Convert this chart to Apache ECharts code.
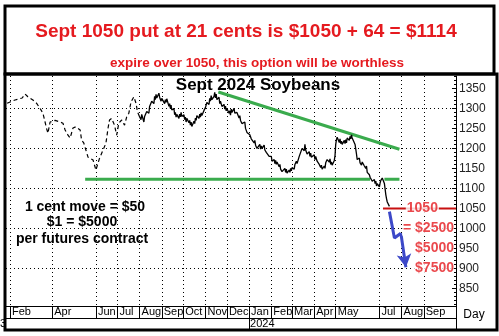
<!DOCTYPE html>
<html>
<head>
<meta charset="utf-8">
<script src="https://cdn.jsdelivr.net/npm/echarts@6/dist/echarts.min.js"></script>
<style>
  html, body { margin: 0; padding: 0; background: #fff; }
  #chart { width: 499px; height: 336px; }
</style>
</head>
<body>
<div id="chart"></div>
<script>
// Sept 2024 soybean futures, daily prices (cents per bushel)
// thinly traded stretch, early 2023
const earlyPrices = [
  ['2023-01-28',1313],['2023-02-01',1316],['2023-02-08',1321],['2023-02-18',1326],['2023-02-22',1336],
  ['2023-02-26',1329],['2023-03-05',1321],['2023-03-10',1313],['2023-03-15',1300],['2023-03-19',1288],
  ['2023-03-22',1266],['2023-03-24',1250],['2023-03-26',1238],['2023-03-29',1266],['2023-04-05',1270],
  ['2023-04-12',1266],['2023-04-16',1263],['2023-04-19',1246],['2023-04-23',1233],['2023-04-26',1226],
  ['2023-04-30',1251],['2023-05-04',1254],['2023-05-10',1246],['2023-05-12',1221],['2023-05-15',1214],
  ['2023-05-18',1196],['2023-05-21',1178],['2023-05-24',1175],['2023-05-28',1171],['2023-06-01',1146],
  ['2023-06-02',1141],['2023-06-06',1175],['2023-06-11',1196],['2023-06-15',1213],['2023-06-18',1251],
  ['2023-06-20',1271],['2023-06-23',1275],['2023-06-27',1258],['2023-06-30',1233],['2023-07-03',1263],
  ['2023-07-07',1271],['2023-07-11',1258],['2023-07-14',1279],['2023-07-17',1288],['2023-07-20',1316],
  ['2023-07-24',1329],['2023-07-27',1313],['2023-07-29',1292],['2023-08-01',1279]
];
// active trading, Aug 2023 onward
const mainPrices = [
  ['2023-08-01',1279],['2023-08-03',1272],['2023-08-04',1285],['2023-08-07',1266],['2023-08-08',1280],
  ['2023-08-10',1276],['2023-08-11',1292],['2023-08-14',1288],['2023-08-15',1305],['2023-08-17',1300],
  ['2023-08-18',1318],['2023-08-21',1312],['2023-08-22',1330],['2023-08-23',1322],['2023-08-24',1335],
  ['2023-08-25',1326],['2023-08-28',1338],['2023-08-29',1328],['2023-08-30',1333],['2023-08-31',1318],
  ['2023-09-01',1325],['2023-09-05',1312],['2023-09-06',1322],['2023-09-07',1315],['2023-09-08',1324],
  ['2023-09-11',1305],['2023-09-12',1312],['2023-09-13',1300],['2023-09-14',1308],['2023-09-15',1296],
  ['2023-09-18',1300],['2023-09-19',1284],['2023-09-20',1290],['2023-09-21',1278],['2023-09-22',1285],
  ['2023-09-25',1275],['2023-09-26',1286],['2023-09-27',1279],['2023-09-28',1290],['2023-09-29',1280],
  ['2023-10-02',1284],['2023-10-03',1272],['2023-10-04',1278],['2023-10-05',1266],['2023-10-06',1275],
  ['2023-10-09',1264],['2023-10-10',1270],['2023-10-11',1258],['2023-10-12',1266],['2023-10-13',1255],
  ['2023-10-16',1268],['2023-10-17',1262],['2023-10-18',1276],['2023-10-19',1270],['2023-10-20',1282],
  ['2023-10-23',1275],['2023-10-24',1286],['2023-10-25',1278],['2023-10-26',1289],['2023-10-27',1282],
  ['2023-10-30',1295],['2023-10-31',1290],['2023-11-01',1302],['2023-11-02',1298],['2023-11-03',1315],
  ['2023-11-06',1310],['2023-11-07',1325],['2023-11-08',1318],['2023-11-09',1332],['2023-11-10',1322],
  ['2023-11-13',1330],['2023-11-14',1340],['2023-11-15',1326],['2023-11-16',1336],['2023-11-17',1322],
  ['2023-11-20',1328],['2023-11-21',1312],['2023-11-22',1318],['2023-11-24',1305],['2023-11-27',1310],
  ['2023-11-28',1298],['2023-11-29',1306],['2023-11-30',1294],['2023-12-01',1300],['2023-12-04',1288],
  ['2023-12-05',1294],['2023-12-06',1283],['2023-12-07',1298],['2023-12-08',1290],['2023-12-11',1300],
  ['2023-12-12',1288],['2023-12-13',1292],['2023-12-14',1284],['2023-12-15',1290],['2023-12-18',1276],
  ['2023-12-19',1282],['2023-12-20',1270],['2023-12-21',1275],['2023-12-22',1262],['2023-12-26',1266],
  ['2023-12-27',1250],['2023-12-28',1254],['2023-12-29',1240],['2024-01-02',1234],['2024-01-03',1238],
  ['2024-01-04',1224],['2024-01-05',1228],['2024-01-08',1214],['2024-01-09',1220],['2024-01-10',1208],
  ['2024-01-11',1212],['2024-01-12',1200],['2024-01-16',1210],['2024-01-17',1198],['2024-01-18',1206],
  ['2024-01-19',1200],['2024-01-22',1208],['2024-01-23',1196],['2024-01-24',1200],['2024-01-25',1190],
  ['2024-01-26',1194],['2024-01-29',1180],['2024-01-30',1184],['2024-01-31',1176],['2024-02-01',1180],
  ['2024-02-02',1168],['2024-02-05',1172],['2024-02-06',1162],['2024-02-07',1170],['2024-02-08',1160],
  ['2024-02-09',1166],['2024-02-12',1154],['2024-02-13',1160],['2024-02-14',1148],['2024-02-15',1152],
  ['2024-02-16',1142],['2024-02-20',1150],['2024-02-21',1140],['2024-02-22',1148],['2024-02-23',1138],
  ['2024-02-26',1146],['2024-02-27',1140],['2024-02-28',1150],['2024-02-29',1144],['2024-03-01',1152],
  ['2024-03-04',1148],['2024-03-05',1160],['2024-03-06',1155],['2024-03-07',1168],['2024-03-08',1162],
  ['2024-03-11',1180],['2024-03-12',1175],['2024-03-13',1190],['2024-03-14',1186],['2024-03-15',1200],
  ['2024-03-18',1194],['2024-03-19',1210],['2024-03-20',1196],['2024-03-21',1200],['2024-03-22',1186],
  ['2024-03-25',1192],['2024-03-26',1180],['2024-03-27',1188],['2024-03-28',1178],['2024-04-01',1184],
  ['2024-04-02',1172],['2024-04-03',1180],['2024-04-04',1176],['2024-04-05',1168],['2024-04-08',1160],
  ['2024-04-09',1164],['2024-04-10',1152],['2024-04-11',1158],['2024-04-12',1148],['2024-04-15',1156],
  ['2024-04-16',1150],['2024-04-17',1164],['2024-04-18',1160],['2024-04-19',1172],['2024-04-22',1166],
  ['2024-04-23',1174],['2024-04-24',1160],['2024-04-25',1166],['2024-04-26',1158],['2024-04-29',1170],
  ['2024-04-30',1182],['2024-05-01',1210],['2024-05-02',1222],['2024-05-03',1228],['2024-05-06',1215],
  ['2024-05-07',1224],['2024-05-08',1212],['2024-05-09',1218],['2024-05-10',1210],['2024-05-13',1220],
  ['2024-05-14',1212],['2024-05-15',1222],['2024-05-16',1214],['2024-05-17',1226],['2024-05-20',1220],
  ['2024-05-21',1230],['2024-05-22',1224],['2024-05-23',1234],['2024-05-24',1226],['2024-05-28',1210],
  ['2024-05-29',1198],['2024-05-30',1186],['2024-05-31',1172],['2024-06-03',1176],['2024-06-04',1164],
  ['2024-06-05',1168],['2024-06-06',1158],['2024-06-07',1166],['2024-06-10',1156],['2024-06-11',1160],
  ['2024-06-12',1150],['2024-06-13',1156],['2024-06-14',1140],['2024-06-17',1134],['2024-06-18',1128],
  ['2024-06-20',1124],['2024-06-21',1118],['2024-06-24',1122],['2024-06-25',1112],['2024-06-26',1118],
  ['2024-06-27',1106],['2024-06-28',1112],['2024-07-01',1104],['2024-07-02',1114],['2024-07-03',1120],
  ['2024-07-05',1126],['2024-07-08',1112],['2024-07-09',1098],['2024-07-10',1084],['2024-07-11',1074],
  ['2024-07-12',1066],['2024-07-15',1055]
];

// Trend lines
const resistanceLine = [['2023-11-19',1341],['2024-07-29',1198]];
const supportLevel = 1123;
const supportSegments = [['2023-05-17','2024-06-18'],['2024-07-08','2024-07-29']];

// Strike and projected losses
const strikeStart = '2024-07-06';
const strikeLevel = 1050;
const strikeLabelDate = '2024-08-30';
const projectedPath = [['2024-07-15',1042],['2024-07-22',976],['2024-07-31',988],['2024-08-07',903]];
const lossLevels = [1000, 950, 900];
const lossLabels = ['= $2500', '$5000', '$7500'];

// Axes
const xMin = '2023-01-26 10:00';
const xMax = '2024-10-16';
const yMin = 806, yMax = 1381;
const priceTicks = [850, 900, 950, 1000, 1050, 1100, 1150, 1200, 1250, 1300, 1350];
const gridLevels = [900, 1000, 1100, 1200, 1300];
const monthTicks = ['2023-02-01','2023-04-01','2023-06-01','2023-07-01','2023-08-01','2023-09-01',
  '2023-10-01','2023-11-01','2023-12-01','2024-01-01','2024-02-01','2024-03-01','2024-04-01',
  '2024-05-01','2024-07-01','2024-08-01','2024-09-01'];
const monthLabels = ['Feb','Apr','Jun','Jul','Aug','Sep','Oct','Nov','Dec','Jan','Feb','Mar','Apr',
  'May','Jul','Aug','Sep'];
const yearTicks = ['2024-01-01'];
const yearLabels = ['2023', '2024'];

const minorTicks = [];
for (let v = 810; v <= 1380; v += 10) minorTicks.push(v);

// the x axes run on plain timestamps
const toTime = s => echarts.number.parseDate(s).getTime();
const pts = arr => arr.map(([d, v]) => [toTime(d), v]);
const monthTimes = monthTicks.map(toTime);
const yearTimes = yearTicks.map(toTime);
const tMin = toTime(xMin), tMax = toTime(xMax);

const FONT = '"Liberation Sans", Arial, sans-serif';
const GREEN = '#3aab4d';
const RED = '#e51a1f';
const BLUE = '#3c48c8';

const chart = echarts.init(document.getElementById('chart'), null, { renderer: 'canvas' });

const dotted = { color: '#000', width: 1, type: [1, 3] };

const option = {
  backgroundColor: '#fff',
  animation: false,
  grid: { left: 6, top: 76, width: 450, height: 230, containLabel: false },
  xAxis: [
    {
      type: 'value', min: tMin, max: tMax, position: 'bottom',
      axisLine: { show: true, lineStyle: { color: '#000', width: 1 } },
      axisTick: { show: true, customValues: monthTimes, length: 12, inside: false,
        lineStyle: { color: '#000', width: 1 } },
      axisLabel: {
        customValues: monthTimes, align: 'left', verticalAlign: 'middle', margin: 6,
        padding: [0, 0, 0, 2], color: '#000', fontFamily: FONT, fontSize: 11,
        hideOverlap: false,
        formatter: v => { const i = monthTimes.indexOf(v); return i >= 0 ? monthLabels[i] : ''; }
      },
      splitLine: { show: true, lineStyle: dotted }
    },
    {
      type: 'value', min: tMin, max: tMax, position: 'bottom', offset: 12,
      axisLine: { show: true, lineStyle: { color: '#000', width: 1 } },
      axisTick: { show: true, customValues: yearTimes, length: 11, inside: false,
        lineStyle: { color: '#000', width: 1 } },
      axisLabel: {
        customValues: yearTimes, align: 'left', verticalAlign: 'middle', margin: 6,
        padding: [0, 0, 0, 1], color: '#000', fontFamily: FONT, fontSize: 11,
        formatter: () => yearLabels[1]
      },
      splitLine: { show: false }
    }
  ],
  yAxis: [
    {
      type: 'value', min: yMin, max: yMax, position: 'right',
      axisLine: { show: true, lineStyle: { color: '#000', width: 1 } },
      axisTick: { show: true, customValues: priceTicks, inside: true, length: 4,
        lineStyle: { color: '#000' } },
      axisLabel: { customValues: priceTicks, margin: 3, color: '#222', fontFamily: FONT, fontSize: 12,
        formatter: v => String(v) },
      splitLine: { show: false }
    },
    {
      type: 'value', min: yMin, max: yMax, position: 'right',
      axisLine: { show: false },
      axisTick: { show: true, customValues: minorTicks, inside: true, length: 2,
        lineStyle: { color: '#000' } },
      axisLabel: { show: false },
      splitLine: { show: false }
    },
    {
      type: 'value', min: yMin, max: yMax, position: 'right',
      axisLine: { show: false },
      axisTick: { show: false, customValues: gridLevels },
      axisLabel: { show: false },
      splitLine: { show: true, lineStyle: dotted }
    }
  ],
  series: [
    {
      type: 'line', data: supportSegments[0].map(d => [toTime(d), supportLevel]),
      symbol: 'none', lineStyle: { color: GREEN, width: 3 }, z: 2, silent: true
    },
    {
      type: 'line', data: supportSegments[1].map(d => [toTime(d), supportLevel]),
      symbol: 'none', lineStyle: { color: GREEN, width: 3 }, z: 2, silent: true
    },
    {
      type: 'line', data: pts(resistanceLine),
      symbol: 'none', lineStyle: { color: GREEN, width: 3 }, z: 2, silent: true
    },
    {
      type: 'line', data: pts(earlyPrices), symbol: 'none',
      lineStyle: { color: '#000', width: 1.2, type: [4, 3] }, z: 3, silent: true
    },
    {
      type: 'line', data: pts(mainPrices), symbol: 'none',
      lineStyle: { color: '#000', width: 1.3 }, z: 3, silent: true
    },
    {
      type: 'line', data: [[toTime(strikeStart), strikeLevel], [tMax, strikeLevel]], symbol: 'none',
      lineStyle: { color: '#c81010', width: 2 }, z: 4, silent: true
    },
    {
      type: 'scatter', data: [[toTime(strikeLabelDate), strikeLevel]], symbolSize: 0, z: 6, silent: true,
      label: {
        show: true, position: 'inside', formatter: String(strikeLevel), color: RED,
        fontFamily: FONT, fontWeight: 'bold', fontSize: 14,
        backgroundColor: '#fff', padding: [0, 1]
      }
    },
    {
      type: 'line', data: pts(projectedPath.slice(0, 3)), symbol: 'none',
      lineStyle: { color: BLUE, width: 3 }, z: 5, silent: true,
      markLine: {
        silent: true, symbol: ['none', 'arrow'], symbolSize: [11, 13],
        label: { show: false },
        lineStyle: { color: BLUE, width: 3, type: 'solid' },
        data: [[{ coord: pts([projectedPath[2]])[0] }, { coord: pts([projectedPath[3]])[0] }]]
      }
    },
    {
      type: 'scatter', data: lossLevels.map(v => [tMax, v]), symbolSize: 0, z: 6, silent: true,
      label: {
        show: true, position: 'left', distance: 2,
        formatter: p => lossLabels[p.dataIndex], color: RED,
        fontFamily: FONT, fontWeight: 'bold', fontSize: 14,
        backgroundColor: '#fff', padding: [0, 0, 0, 1]
      }
    }
  ],
  graphic: [
    {
      type: 'rect', shape: { x: 5, y: 6, width: 489, height: 68 },
      style: { fill: 'none', stroke: '#000', lineWidth: 3 }, z: 100
    },
    {
      type: 'rect', shape: { x: 5, y: 74, width: 492, height: 256 },
      style: { fill: 'none', stroke: '#000', lineWidth: 3 }, z: 100
    },
    {
      type: 'line', shape: { x1: 456.5, y1: 306, x2: 456.5, y2: 330 },
      style: { stroke: '#000', lineWidth: 1 }, z: 50
    },
    {
      type: 'text', z: 60,
      style: { text: 'Sept 1050 put at 21 cents is $1050 + 64 = $1114', x: 246, y: 32,
        align: 'center', verticalAlign: 'middle', fill: RED, font: 'bold 19px ' + FONT }
    },
    {
      type: 'text', z: 60,
      style: { text: 'expire over 1050, this option will be worthless', x: 257, y: 63,
        align: 'center', verticalAlign: 'middle', fill: RED, font: 'bold 13.5px ' + FONT }
    },
    {
      type: 'text', z: 60,
      style: { text: 'Sept 2024 Soybeans', x: 258, y: 85,
        align: 'center', verticalAlign: 'middle', fill: '#000', font: 'bold 17px ' + FONT }
    },
    {
      type: 'text', z: 60,
      style: { text: '1 cent move = $50', x: 85, y: 207,
        align: 'center', verticalAlign: 'middle', fill: '#000', font: 'bold 14px ' + FONT }
    },
    {
      type: 'text', z: 60,
      style: { text: '$1 = $5000', x: 82, y: 222,
        align: 'center', verticalAlign: 'middle', fill: '#000', font: 'bold 14px ' + FONT }
    },
    {
      type: 'text', z: 60,
      style: { text: 'per futures contract', x: 82, y: 239,
        align: 'center', verticalAlign: 'middle', fill: '#000', font: 'bold 14px ' + FONT }
    },
    {
      type: 'text', z: 60,
      style: { text: 'Day', x: 474, y: 315,
        align: 'center', verticalAlign: 'middle', fill: '#000', font: '12px ' + FONT }
    },
    {
      type: 'text', z: 120,
      style: { text: yearLabels[0], x: 6, y: 324,
        align: 'right', verticalAlign: 'middle', fill: '#000', font: '11px ' + FONT }
    }
  ]
};

chart.setOption(option);
</script>
</body>
</html>
